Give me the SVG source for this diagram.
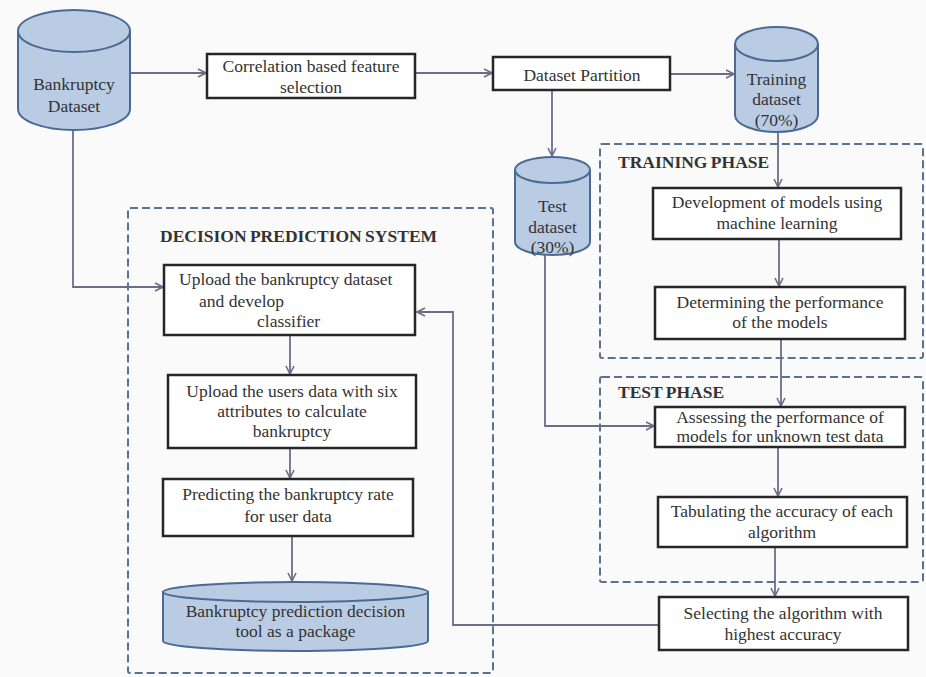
<svg xmlns="http://www.w3.org/2000/svg" width="926" height="677" viewBox="0 0 926 677">
<style>
  .bg{fill:#fafafa}
  .box{fill:#ffffff;stroke:#262626;stroke-width:2.5}
  .db{fill:#b9cce4;stroke:#4b6a93;stroke-width:2}
  .grp{fill:none;stroke:#5b7190;stroke-width:2;stroke-dasharray:8 4}
  text{font-family:"Liberation Serif",Tinos,"Times New Roman","DejaVu Serif",serif;font-size:17.5px;fill:#333}
  .t{text-anchor:middle}
  .h{font-weight:bold;word-spacing:-1px}
  .c{fill:none;stroke:#6e6c88;stroke-width:1.8;marker-end:url(#arr)}
</style>
<defs>
  <marker id="arr" viewBox="0 0 10 10" refX="9" refY="5" markerWidth="10" markerHeight="10" markerUnits="userSpaceOnUse" orient="auto">
    <path d="M1,1 L9,5 L1,9" fill="none" stroke="#6e6c88" stroke-width="1.6"/>
  </marker>
</defs>
<rect class="bg" x="0" y="0" width="926" height="677"/>

<g id="groups">
  <rect id="decision-system" class="grp" x="128" y="208" width="365" height="465" rx="2"/>
  <rect id="training-phase" class="grp" x="600" y="144" width="323" height="214" rx="2"/>
  <rect id="test-phase" class="grp" x="600" y="377" width="323" height="205" rx="2"/>
  <text class="h" x="160" y="242" font-family="Liberation Serif, serif">DECISION PREDICTION SYSTEM</text>
  <text class="h" x="618" y="168" font-family="Liberation Serif, serif">TRAINING PHASE</text>
  <text class="h" x="618" y="398" font-family="Liberation Serif, serif">TEST PHASE</text>
</g>

<g id="connectors">
  <path class="c" d="M130,73 H206"/>
  <path class="c" d="M415,73 H492"/>
  <path class="c" d="M670,74 H734"/>
  <path class="c" d="M552,90 V156"/>
  <path class="c" d="M778,132 V187"/>
  <path class="c" d="M779,239 V286"/>
  <path class="c" d="M781,339 V406"/>
  <path class="c" d="M545,255 V426 H654"/>
  <path class="c" d="M778,447 V496"/>
  <path class="c" d="M775,547 V596"/>
  <path class="c" d="M659,625 H453 V312 H417"/>
  <path class="c" d="M73,130 V287 H163"/>
  <path class="c" d="M290,335 V374"/>
  <path class="c" d="M290,448 V478"/>
  <path class="c" d="M292,536 V581"/>
</g>

<g id="bankruptcy-dataset">
  <path class="db" d="M18,31 L18,109 A56,21 0 0 0 130,109 L130,31 Z"/>
  <ellipse class="db" cx="74" cy="31" rx="56" ry="21"/>
  <text class="t" x="74" y="90">Bankruptcy</text>
  <text class="t" x="74" y="112">Dataset</text>
</g>

<g id="correlation">
  <rect class="box" x="207" y="54" width="208" height="44"/>
  <text class="t" x="311" y="72">Correlation  based feature</text>
  <text class="t" x="311" y="93">selection</text>
</g>

<g id="dataset-partition">
  <rect class="box" x="493" y="57" width="177" height="33"/>
  <text class="t" x="582" y="81">Dataset Partition</text>
</g>

<g id="training-dataset">
  <path class="db" d="M735,44 L735,115 A41.5,17 0 0 0 818,115 L818,44 Z"/>
  <ellipse class="db" cx="776.5" cy="44" rx="41.5" ry="17"/>
  <text class="t" x="776.5" y="85">Training</text>
  <text class="t" x="776.5" y="105">dataset</text>
  <text class="t" x="776.5" y="126">(70%)</text>
</g>

<g id="test-dataset">
  <path class="db" d="M515,170 L515,242 A37.5,13 0 0 0 590,242 L590,170 Z"/>
  <ellipse class="db" cx="552.5" cy="170" rx="37.5" ry="13"/>
  <text class="t" x="552.5" y="212">Test</text>
  <text class="t" x="552.5" y="233">dataset</text>
  <text class="t" x="552.5" y="253">(30%)</text>
</g>

<g id="development">
  <rect class="box" x="653" y="188" width="248" height="51"/>
  <text class="t" x="777" y="208">Development  of models using</text>
  <text class="t" x="777" y="229">machine  learning</text>
</g>

<g id="determining">
  <rect class="box" x="655" y="287" width="250" height="52"/>
  <text class="t" x="780" y="308">Determining  the performance</text>
  <text class="t" x="780" y="328">of the models</text>
</g>

<g id="assessing">
  <rect class="box" x="655" y="407" width="250" height="40"/>
  <text class="t" x="780" y="423">Assessing the performance of</text>
  <text class="t" x="780" y="442">models for unknown test data</text>
</g>

<g id="tabulating">
  <rect class="box" x="658" y="497" width="249" height="50"/>
  <text class="t" x="782" y="517">Tabulating  the accuracy of each</text>
  <text class="t" x="782" y="538">algorithm</text>
</g>

<g id="selecting">
  <rect class="box" x="659" y="597" width="249" height="53"/>
  <text class="t" x="783" y="619">Selecting  the algorithm  with</text>
  <text class="t" x="783" y="640">highest accuracy</text>
</g>

<g id="upload-dataset">
  <rect class="box" x="164" y="265" width="251" height="70"/>
  <text x="179" y="285">Upload the bankruptcy dataset</text>
  <text x="199" y="307">and develop</text>
  <text x="257" y="327">classifier</text>
</g>

<g id="upload-users">
  <rect class="box" x="168" y="375" width="248" height="73"/>
  <text class="t" x="292" y="397">Upload the users data with  six</text>
  <text class="t" x="292" y="417">attributes to calculate</text>
  <text class="t" x="292" y="437">bankruptcy</text>
</g>

<g id="predicting">
  <rect class="box" x="163" y="479" width="250" height="57"/>
  <text class="t" x="288" y="500">Predicting the bankruptcy rate</text>
  <text class="t" x="288" y="522">for user data</text>
</g>

<g id="decision-tool">
  <path class="db" d="M163,592 L163,641 A132.5,10 0 0 0 428,641 L428,592 Z"/>
  <ellipse class="db" cx="295.5" cy="592" rx="132.5" ry="10"/>
  <text class="t" x="295.5" y="617">Bankruptcy prediction decision</text>
  <text class="t" x="295.5" y="637">tool as a package</text>
</g>
</svg>
